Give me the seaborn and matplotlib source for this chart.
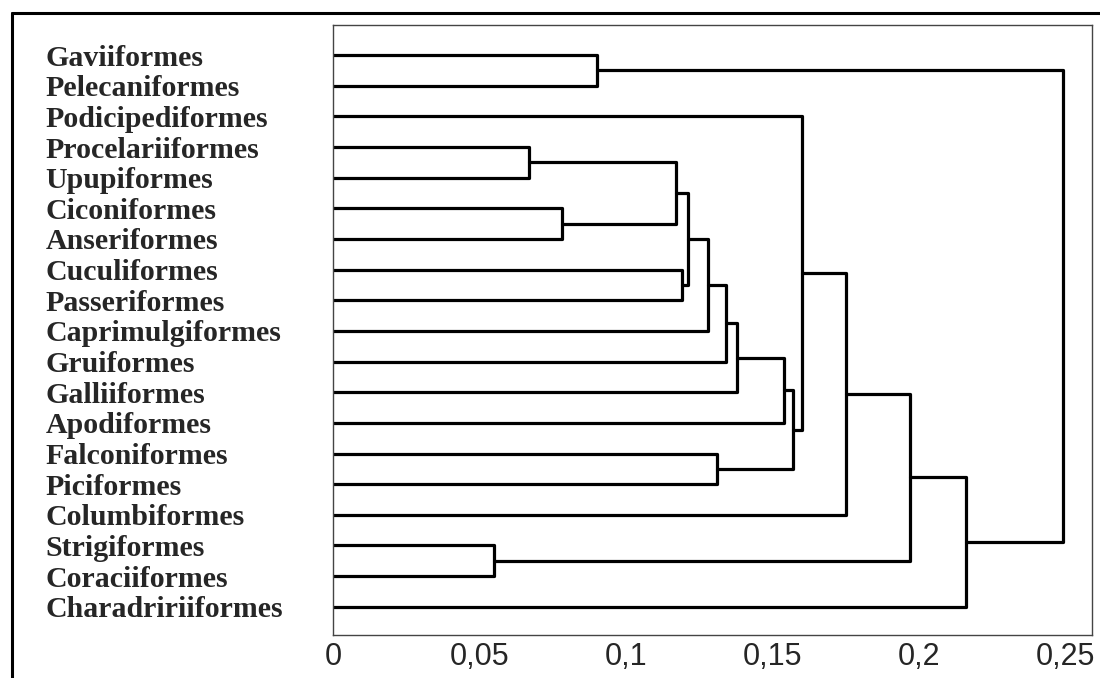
import numpy as np
import pandas as pd
import matplotlib
matplotlib.use('Agg')
import matplotlib.pyplot as plt
from matplotlib.lines import Line2D
import seaborn as sns

# leaves, top to bottom
orders = ['Gaviiformes', 'Pelecaniformes', 'Podicipediformes', 'Procelariiformes',
          'Upupiformes', 'Ciconiformes', 'Anseriformes', 'Cuculiformes',
          'Passeriformes', 'Caprimulgiformes', 'Gruiformes', 'Galliiformes',
          'Apodiformes', 'Falconiformes', 'Piciformes', 'Columbiformes',
          'Strigiformes', 'Coraciiformes', 'Charadririiformes']

# merges (linkage style): ids 0-18 are leaves, id 19+k is the k-th merge
merge_a = [3, 5, 19, 7, 21, 23, 24, 25, 26, 13, 27, 2, 30, 16, 31, 33, 0, 35]
merge_b = [4, 6, 20, 8, 22, 9, 10, 11, 12, 14, 28, 29, 15, 17, 32, 18, 1, 34]
merge_h = [0.067, 0.078, 0.117, 0.119, 0.121, 0.128, 0.134, 0.138, 0.154,
           0.131, 0.157, 0.160, 0.175, 0.055, 0.197, 0.216, 0.090, 0.249]

tick_vals = [0, 0.05, 0.1, 0.15, 0.2, 0.25]
tick_text = ['0', '0,05', '0,1', '0,15', '0,2', '0,25']


def build_segments(n_leaves, a_list, b_list, h_list):
    pos = {i: (0.0, float(i)) for i in range(n_leaves)}
    rows = []
    for k, (a, b, h) in enumerate(zip(a_list, b_list, h_list)):
        xa, ya = pos[a]
        xb, yb = pos[b]
        for px, py in [(xa, ya), (h, ya), (h, yb), (xb, yb)]:
            rows.append({'x': px, 'y': py, 'seg': k})
        pos[n_leaves + k] = (h, (ya + yb) / 2)
    return pd.DataFrame(rows)


sns.set_style('white')
plt.rcParams['font.family'] = ['Liberation Serif', 'DejaVu Serif']

fig = plt.figure(figsize=(11, 6.78), dpi=100)
ax = fig.add_axes([333 / 1100, 1 - 635 / 678, (1092 - 333) / 1100, (635 - 25) / 678])

df = build_segments(len(orders), merge_a, merge_b, merge_h)
sns.lineplot(data=df, x='x', y='y', units='seg', estimator=None, sort=False,
             color='black', linewidth=2.3, ax=ax, legend=False)

ax.set_xlim(0, 0.259)
ax.set_ylim(18.92, -0.98)
ax.set_xlabel('')
ax.set_ylabel('')

ax.set_yticks(range(len(orders)))
ax.set_yticklabels(orders, fontsize=21.5, fontweight='bold', ha='left',
                   family=['Liberation Serif', 'DejaVu Serif'])
ax.tick_params(axis='y', length=0, pad=207)

ax.set_xticks(tick_vals)
ax.set_xticklabels(tick_text, fontsize=22, family=['Liberation Sans', 'DejaVu Sans'])
ax.tick_params(axis='x', length=0, pad=5)

for sp in ax.spines.values():
    sp.set_visible(True)
    sp.set_color('#444444')
    sp.set_linewidth(1.0)

# outer frame (top and left edges)
fig.add_artist(Line2D([12 / 1100, 1.0], [1 - 13 / 678, 1 - 13 / 678],
                      color='black', linewidth=2.2, transform=fig.transFigure))
fig.add_artist(Line2D([12 / 1100, 12 / 1100], [1 - 13 / 678, 0.0],
                      color='black', linewidth=2.2, transform=fig.transFigure))

fig.savefig('out.png', dpi=100)
